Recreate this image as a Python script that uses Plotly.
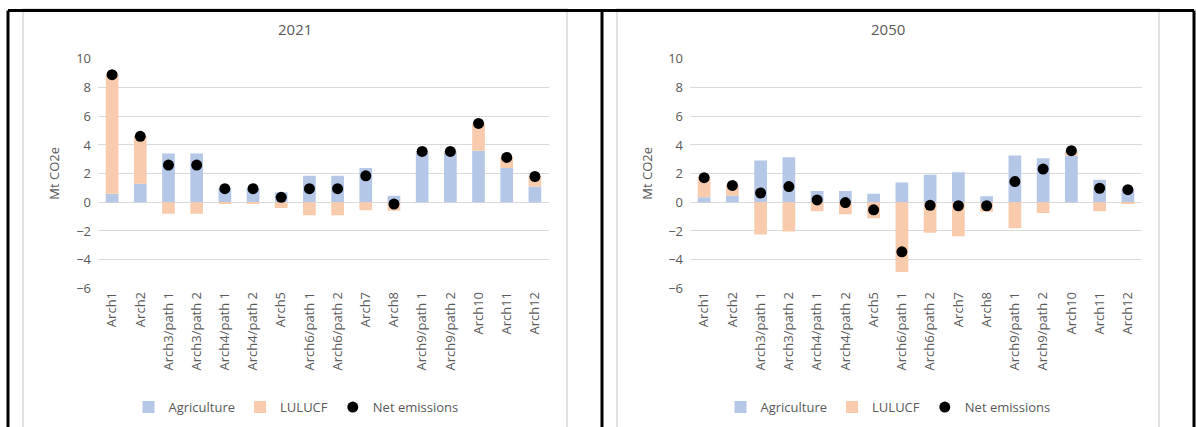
import plotly.graph_objects as go

categories = ["Arch1", "Arch2", "Arch3/path 1", "Arch3/path 2", "Arch4/path 1", "Arch4/path 2",
              "Arch5", "Arch6/path 1", "Arch6/path 2", "Arch7", "Arch8", "Arch9/path 1",
              "Arch9/path 2", "Arch10", "Arch11", "Arch12"]

agri_2021 = [0.6, 1.3, 3.4, 3.4, 1.0, 1.0, 0.7, 1.85, 1.85, 2.4, 0.46, 3.45, 3.45, 3.6, 2.4, 1.1]
lulucf_2021 = [8.3, 3.3, -0.8, -0.8, -0.05, -0.05, -0.4, -0.9, -0.9, -0.56, -0.58, 0.1, 0.1, 1.9, 0.75, 0.75]
net_2021 = [8.9, 4.6, 2.6, 2.6, 0.95, 0.95, 0.35, 0.95, 0.95, 1.85, -0.12, 3.55, 3.55, 5.5, 3.13, 1.8]

agri_2050 = [0.35, 0.46, 2.92, 3.15, 0.79, 0.79, 0.6, 1.39, 1.92, 2.1, 0.42, 3.26, 3.08, 3.24, 1.57, 0.95]
lulucf_2050 = [1.4, 0.75, -2.25, -2.04, -0.63, -0.83, -1.11, -4.86, -2.13, -2.36, -0.65, -1.8, -0.74, 0.35, -0.63, -0.05]
net_2050 = [1.72, 1.18, 0.65, 1.1, 0.17, -0.02, -0.52, -3.45, -0.21, -0.24, -0.24, 1.45, 2.32, 3.6, 0.98, 0.88]

y_ticks = [-6, -4, -2, 0, 2, 4, 6, 8, 10]
panel_titles = ["2021", "2050"]
series_names = ["Agriculture", "LULUCF", "Net emissions"]

BLUE = "#B4C7E7"
ORANGE = "#F8CBAD"
GREY_TXT = "#595959"
GRID = "#D9D9D9"
FONT = "Open Sans"

W, H = 1196, 427

def px(x):
    return x / W

def py(y):
    # layout y position (pixels from top) -> paper fraction, compensating the
    # vertical offset/scale observed in the photographed page
    y = (y - 9.0) / 0.96
    return min(max(1 - y / H, -0.05), 1.0)

fig = go.Figure()

panels = [
    (agri_2021, lulucf_2021, net_2021, "x", "y", "legend"),
    (agri_2050, lulucf_2050, net_2050, "x2", "y2", "legend2"),
]
for agri, lul, net, xa, ya, lg in panels:
    fig.add_trace(go.Bar(x=categories, y=agri, name=series_names[0], marker_color=BLUE,
                         marker_line_width=0, xaxis=xa, yaxis=ya, legend=lg))
    fig.add_trace(go.Bar(x=categories, y=lul, name=series_names[1], marker_color=ORANGE,
                         marker_line_width=0, xaxis=xa, yaxis=ya, legend=lg))
    fig.add_trace(go.Scatter(x=categories, y=net, name=series_names[2], mode="markers",
                             marker=dict(color="black", size=11), xaxis=xa, yaxis=ya, legend=lg))

xcommon = dict(type="category", range=[-0.5, len(categories) - 0.5], tickangle=-90,
               showgrid=False, showline=False, ticks="", zeroline=False,
               tickfont=dict(family=FONT, size=13, color=GREY_TXT))
ycommon = dict(range=[-6, 10], tickvals=y_ticks, showgrid=True, gridcolor=GRID, gridwidth=1,
               zeroline=True, zerolinecolor=GRID, zerolinewidth=1, showline=False, ticks="",
               tickfont=dict(family=FONT, size=13, color=GREY_TXT), ticklabelstandoff=6)

ydom = [py(289), py(59)]
fig.update_layout(
    width=W, height=H, margin=dict(l=0, r=0, t=0, b=0),
    paper_bgcolor="white", plot_bgcolor="white",
    barmode="relative", bargap=0.55,
    xaxis=dict(domain=[px(98), px(549)], anchor="y", **xcommon),
    yaxis=dict(domain=ydom, anchor="x", **ycommon),
    xaxis2=dict(domain=[px(690), px(1142)], anchor="y2", **xcommon),
    yaxis2=dict(domain=ydom, anchor="x2", **ycommon),
    legend=dict(orientation="h", x=px(296), y=py(408), xanchor="center", yanchor="middle",
                font=dict(family=FONT, size=13, color=GREY_TXT), itemwidth=30,
                bgcolor="rgba(0,0,0,0)"),
    legend2=dict(orientation="h", x=px(888), y=py(408), xanchor="center", yanchor="middle",
                 font=dict(family=FONT, size=13, color=GREY_TXT), itemwidth=30,
                 bgcolor="rgba(0,0,0,0)"),
    showlegend=True,
)

for cx, title in zip([295, 888], panel_titles):
    fig.add_annotation(x=px(cx), y=py(29), xref="paper", yref="paper", text=title,
                       xanchor="center", yanchor="middle",
                       showarrow=False, font=dict(family=FONT, size=15, color=GREY_TXT))
for cx in [54, 647]:
    fig.add_annotation(x=px(cx), y=py(174), xref="paper", yref="paper", text="Mt CO2e",
                       xanchor="center", yanchor="middle",
                       textangle=-90, showarrow=False,
                       font=dict(family=FONT, size=13, color=GREY_TXT))

for x0, x1 in [(23, 567), (617, 1159)]:
    fig.add_shape(type="rect", xref="paper", yref="paper", x0=px(x0), x1=px(x1),
                  y0=-0.05, y1=py(5), line=dict(color=GRID, width=1.5), layer="below")

top = 1 - 1.5 / H
for x0, x1, y0, y1 in [(8, 1194, top, top), (8, 8, top, -0.05), (602, 602, top, -0.05),
                       (1194, 1194, top, -0.05)]:
    fig.add_shape(type="line", xref="paper", yref="paper", x0=px(x0), x1=px(x1),
                  y0=y0, y1=y1, line=dict(color="black", width=3))

page_fix = """
var st = document.createElement('style');
st.textContent = 'html,body{margin:0!important;padding:0!important;overflow:hidden!important;}';
document.head.appendChild(st);
var gd = document.getElementById('{plot_id}');
gd.style.position = 'absolute';
gd.style.left = '0px';
gd.style.top = '0px';
"""

fig.write_html("out.html", post_script=page_fix, config={"displayModeBar": False})
